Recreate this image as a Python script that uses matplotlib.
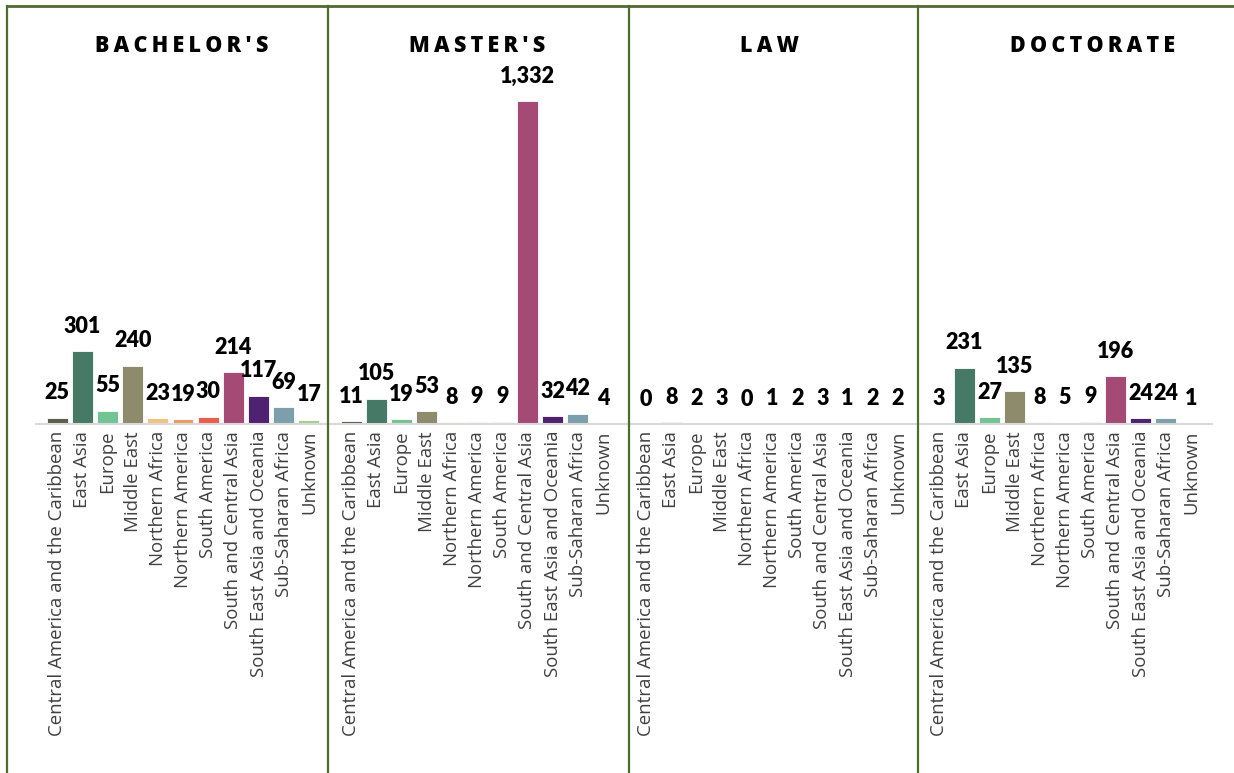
import numpy as np
import matplotlib
matplotlib.use('Agg')
from matplotlib import pyplot as plt
from matplotlib.lines import Line2D

# data
regions = ['Central America and the Caribbean', 'East Asia', 'Europe', 'Middle East',
           'Northern Africa', 'Northern America', 'South America', 'South and Central Asia',
           'South East Asia and Oceania', 'Sub-Saharan Africa', 'Unknown']
degrees = ["BACHELOR'S", "MASTER'S", "LAW", "DOCTORATE"]
bachelors = [25, 301, 55, 240, 23, 19, 30, 214, 117, 69, 17]
masters = [11, 105, 19, 53, 8, 9, 9, 1332, 32, 42, 4]
law = [0, 8, 2, 3, 0, 1, 2, 3, 1, 2, 2]
doctorate = [3, 231, 27, 135, 8, 5, 9, 196, 24, 24, 1]
values = [bachelors, masters, law, doctorate]

colors = ['#5b5d4c', '#467a66', '#72c593', '#8e8a6c', '#f0c282', '#eb9a62',
          '#e8604a', '#a44a74', '#4e2270', '#7b9fab', '#a3d08f']
green = '#4f6b2e'

W, H = 1234, 773
fig = plt.figure(figsize=(W/100, H/100), dpi=100)

def px(x0, y0, w, h):
    # pixel box (from top-left) -> figure fraction
    return [x0/W, 1 - (y0 + h)/H, w/W, h/H]

lefts = [37, 331, 626, 919]
title_x = [182, 477, 770, 1093]
base_y = 424
top_y = 101

for k in range(4):
    ax = fig.add_axes(px(lefts[k], top_y, 287, base_y - top_y))
    x = np.arange(len(regions))
    ax.bar(x, values[k], width=0.83, color=colors, edgecolor='white', linewidth=0.6)
    ax.set_xlim(-0.8, 10.6)
    ax.set_ylim(0, 1332)
    for xi, v in zip(x, values[k]):
        ax.annotate('{:,}'.format(v), (xi, v), xytext=(0, 18), textcoords='offset points',
                    ha='center', va='center', fontsize=15.5, fontweight='heavy',
                    family='Lato', color='black', annotation_clip=False)
    ax.set_xticks(x)
    ax.set_xticklabels(regions, rotation=90, fontsize=13.4, color='#404040', family='Open Sans')
    ax.tick_params(axis='x', length=0, pad=5)
    ax.set_yticks([])
    for s in ax.spines.values():
        s.set_visible(False)
    ax.patch.set_visible(False)
    fig.text(title_x[k]/W, 1 - 46/H, '\u2009'.join(degrees[k]), ha='center', va='center',
             fontsize=15.5, fontweight='heavy', family=['Open Sans', 'DejaVu Sans'], color='black')

# baseline across all panels
fig.add_artist(Line2D([36/W, 1212/W], [1 - base_y/H, 1 - base_y/H], color='#d9d9d9', lw=1.5))

# green frame lines
fig.add_artist(Line2D([7/W, 1], [1 - 6/H, 1 - 6/H], color=green, lw=2))
for xv in [7, 328, 629, 918]:
    fig.add_artist(Line2D([xv/W, xv/W], [0, 1 - 6/H], color=green, lw=1.6))

fig.savefig('out.png', dpi=100)
